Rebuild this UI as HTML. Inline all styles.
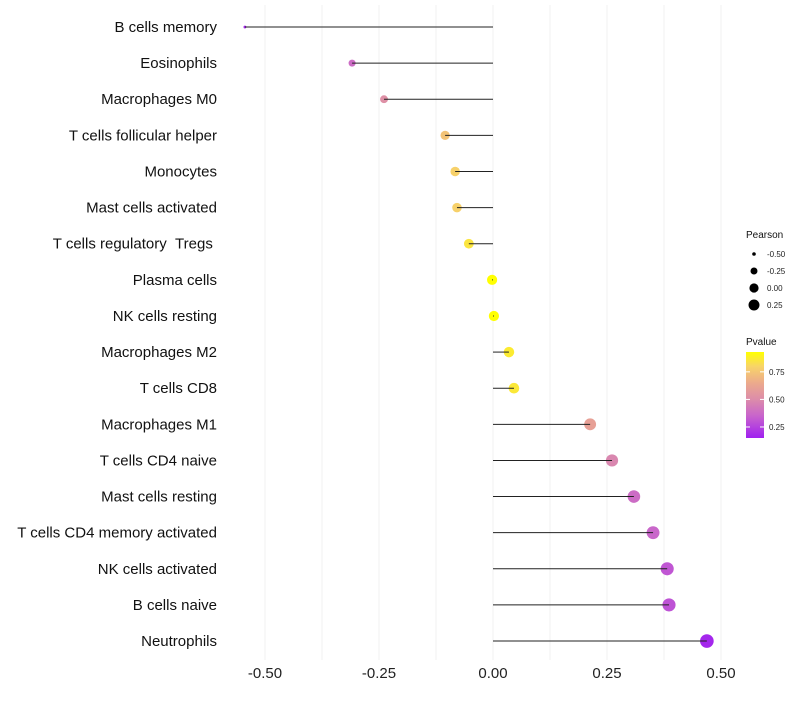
<!DOCTYPE html>
<html><head><meta charset="utf-8"><style>body{margin:0;background:#fff}svg{font-family:"Liberation Sans",sans-serif}</style></head>
<body>
<svg id="c" width="800" height="700"></svg>
<script>
const categories=["B cells memory","Eosinophils","Macrophages M0","T cells follicular helper","Monocytes","Mast cells activated","T cells regulatory\u00a0\u00a0Tregs\u00a0","Plasma cells","NK cells resting","Macrophages M2","T cells CD8","Macrophages M1","T cells CD4 naive","Mast cells resting","T cells CD4 memory activated","NK cells activated","B cells naive","Neutrophils"];
const pearson=[-0.544,-0.309,-0.239,-0.105,-0.083,-0.079,-0.053,-0.002,0.002,0.035,0.046,0.213,0.261,0.309,0.351,0.382,0.386,0.469];
const pvalue=[0.17,0.38,0.52,0.74,0.79,0.79,0.85,0.93,0.93,0.87,0.86,0.6,0.48,0.38,0.36,0.31,0.3,0.17];
const xTicks=[-0.5,-0.25,0,0.25,0.5];
const xTickLabels=["-0.50","-0.25","0.00","0.25","0.50"];
const sizeLegend=[-0.5,-0.25,0,0.25];
const colorLegend=[0.75,0.5,0.25];

const NS="http://www.w3.org/2000/svg",svg=document.getElementById('c');
function mk(t,a,p){const e=document.createElementNS(NS,t);for(const k in a)e.setAttribute(k,a[k]);(p||svg).appendChild(e);return e;}
const X=v=>493+v*456;
const Y=i=>27+i*36.12;
const R=v=>Math.sqrt(Math.max(0.5,26+44*v));
const stops=[[0.15,[160,32,240]],[0.35,[200,100,204]],[0.5,[220,140,170]],[0.65,[236,170,140]],[0.8,[248,212,104]],[0.93,[255,255,0]]];
function col(p){if(p<=stops[0][0])return `rgb(${stops[0][1]})`;
 for(let i=1;i<stops.length;i++){if(p<=stops[i][0]){const t=(p-stops[i-1][0])/(stops[i][0]-stops[i-1][0]);const a=stops[i-1][1],b=stops[i][1];return `rgb(${a.map((x,j)=>Math.round(x+(b[j]-x)*t))})`;}}
 return `rgb(${stops[stops.length-1][1]})`;}
// grid
for(let v=-0.5;v<=0.5001;v+=0.125){const g=mk('line',{x1:X(v),x2:X(v),y1:5,y2:660,stroke:'#f0f0f0','stroke-width':1});

}
xTicks.forEach((v,i)=>{const t=mk('text',{x:X(v),y:678,'font-size':15,'text-anchor':'middle',fill:'#222'});t.textContent=xTickLabels[i];

});
categories.forEach((c,i)=>{
 const t=mk('text',{x:217,y:Y(i)+5,'font-size':15,'text-anchor':'end',fill:'#111'});t.textContent=c;
 
 
 const d=mk('circle',{cx:X(pearson[i]),cy:Y(i),r:R(pearson[i]),fill:col(pvalue[i])});
 
 
 const l=mk('line',{x1:X(0),x2:X(pearson[i]),y1:Y(i),y2:Y(i),stroke:'#222','stroke-width':1});
 
 
});
// size legend
let t=mk('text',{x:746,y:238,'font-size':10,fill:'#111'});t.textContent="Pearson";

sizeLegend.forEach((v,i)=>{const y=254+i*17;const c=mk('circle',{cx:754,cy:y,r:R(v)*0.9,fill:'#000'});

const tt=mk('text',{x:767,y:y+3,'font-size':8,fill:'#222'});tt.textContent=v.toFixed(2);
});
t=mk('text',{x:746,y:345,'font-size':10,fill:'#111'});t.textContent="Pvalue";

const defs=mk('defs',{});const gr=mk('linearGradient',{id:'g',x1:0,y1:1,x2:0,y2:0},defs);
stops.forEach(s=>mk('stop',{offset:(s[0]-0.15)/0.78,'stop-color':col(s[0])},gr));
const bar=mk('rect',{x:746,y:352,width:18,height:86,fill:'url(#g)'});

colorLegend.forEach(v=>{const y=438-(v-0.15)/0.78*86;mk('line',{x1:746,x2:750,y1:y,y2:y,stroke:'#fff'});mk('line',{x1:760,x2:764,y1:y,y2:y,stroke:'#fff'});
const tt=mk('text',{x:769,y:y+3,'font-size':8,fill:'#222'});tt.textContent=v.toFixed(2);
});
</script>
</body></html>
